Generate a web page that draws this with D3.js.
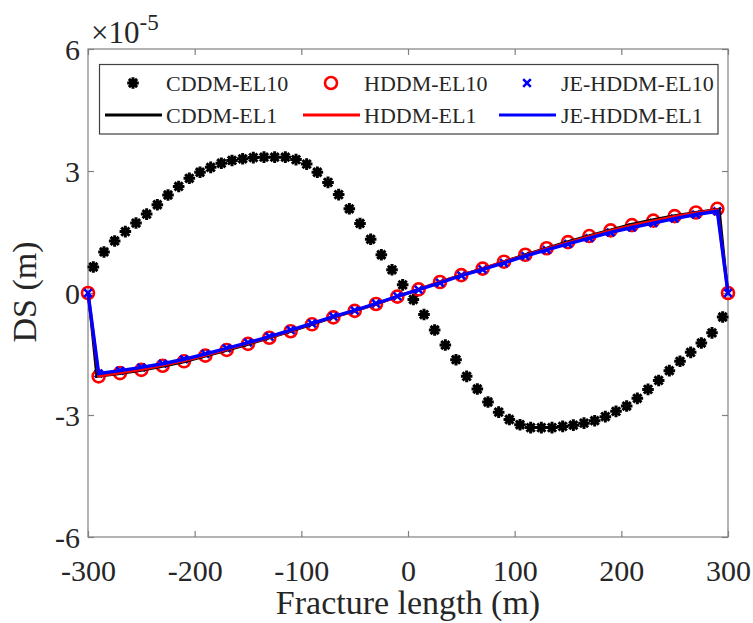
<!DOCTYPE html>
<html>
<head>
<meta charset="utf-8">
<script src="https://cdn.jsdelivr.net/npm/d3@7/dist/d3.min.js"></script>
<style>
  body { margin: 0; background: #fff; }
</style>
</head>
<body>
<div id="my_dataviz"></div>
<script>
// values are in units of 1e-5 m (the axis shows x10^-5)

// CDDM-EL10 : element centres
const cddmEl10X = [-295,-285,-275,-265,-255,-245,-235,-225,-215,-205,-195,-185,-175,-165,-155,-145,-135,-125,-115,-105,
  -95,-85,-75,-65,-55,-45,-35,-25,-15,-5,5,15,25,35,45,55,65,75,85,95,
  105,115,125,135,145,155,165,175,185,195,205,215,225,235,245,255,265,275,285,295];
const cddmEl10Y = [0.64,1.01,1.28,1.51,1.72,1.94,2.17,2.41,2.62,2.82,2.97,3.09,3.19,3.26,3.30,3.33,3.34,3.34,3.34,3.28,
  3.17,2.97,2.72,2.42,2.07,1.71,1.32,0.94,0.57,0.20,-0.16,-0.53,-0.91,-1.28,-1.64,-2.05,-2.36,-2.68,-2.93,-3.11,
  -3.24,-3.31,-3.31,-3.31,-3.28,-3.25,-3.20,-3.14,-3.04,-2.91,-2.78,-2.59,-2.37,-2.15,-1.91,-1.68,-1.46,-1.23,-0.98,-0.59];

// HDDM / JE-HDDM nodes
const nodeX = [-300,-290,-270,-250,-230,-210,-190,-170,-150,-130,-110,-90,-70,-50,-30,-10,
  10,30,50,70,90,110,130,150,170,190,210,230,250,270,290,300];
const hddmEl10Y = [0,-2.05,-1.97,-1.89,-1.79,-1.68,-1.54,-1.40,-1.25,-1.10,-0.94,-0.77,-0.60,-0.44,-0.27,-0.09,
  0.09,0.27,0.44,0.60,0.77,0.94,1.10,1.25,1.40,1.54,1.67,1.78,1.89,1.98,2.07,0];
const jeEl10Y = [0,-1.98,-1.91,-1.83,-1.74,-1.63,-1.50,-1.36,-1.22,-1.07,-0.91,-0.75,-0.58,-0.43,-0.26,-0.08,
  0.08,0.25,0.43,0.58,0.74,0.91,1.06,1.21,1.35,1.49,1.61,1.72,1.83,1.93,2.01,0];

// EL1 curves
const cddmEl1X = [-300,-292,-270,-250,-230,-210,-190,-170,-150,-130,-110,-90,-70,-50,-30,-10,
  10,30,50,70,90,110,130,150,170,190,210,230,250,270,292,300];
const cddmEl1Y = [0,-2.06,-1.99,-1.91,-1.81,-1.70,-1.56,-1.42,-1.27,-1.11,-0.95,-0.78,-0.61,-0.45,-0.28,-0.09,
  0.09,0.28,0.45,0.61,0.78,0.95,1.11,1.27,1.42,1.56,1.70,1.81,1.91,1.99,2.07,0];
const hddmEl1Y = [0,-2.04,-1.96,-1.88,-1.78,-1.67,-1.53,-1.39,-1.24,-1.09,-0.93,-0.76,-0.59,-0.44,-0.27,-0.09,
  0.09,0.27,0.44,0.60,0.77,0.93,1.09,1.24,1.39,1.53,1.66,1.77,1.88,1.97,2.05,0];
const jeEl1Y = [0,-1.98,-1.91,-1.83,-1.74,-1.63,-1.50,-1.36,-1.22,-1.07,-0.91,-0.75,-0.58,-0.43,-0.26,-0.08,
  0.08,0.25,0.43,0.58,0.74,0.91,1.06,1.21,1.35,1.49,1.61,1.72,1.83,1.93,2.01,0];

const xTicks = [-300,-200,-100,0,100,200,300];
const yTicks = [-6,-3,0,3,6];

const legendNames = ["CDDM-EL10","HDDM-EL10","JE-HDDM-EL10","CDDM-EL1","HDDM-EL1","JE-HDDM-EL1"];

// set the dimensions and margins of the graph
const W = 753, H = 623;
const margin = {top: 49, right: 25, bottom: 86, left: 88},
    width = W - margin.left - margin.right,
    height = H - margin.top - margin.bottom;

const font = "'Liberation Serif','Times New Roman',serif";
const axisCol = "#808080", textCol = "#262626";

const root = d3.select("#my_dataviz")
  .append("svg")
    .attr("width", W)
    .attr("height", H)
    .style("background", "#fff");

const svg = root.append("g")
    .attr("transform", `translate(${margin.left}, ${margin.top})`);

const x = d3.scaleLinear().domain([-300, 300]).range([0, width]);
const y = d3.scaleLinear().domain([-6, 6]).range([height, 0]);

// axes box
svg.append("rect")
  .attr("width", width).attr("height", height)
  .attr("fill", "none").attr("stroke", axisCol).attr("stroke-width", 1.2);

const tl = 6;
const fmt = d => String(d);   // plain hyphen minus, as MATLAB prints
const xb = svg.append("g").attr("transform", `translate(0, ${height})`)
  .call(d3.axisBottom(x).tickValues(xTicks).tickSize(-tl).tickPadding(23).tickFormat(fmt));
const xt = svg.append("g")
  .call(d3.axisTop(x).tickValues(xTicks).tickSize(-tl).tickFormat(""));
const yl = svg.append("g")
  .call(d3.axisLeft(y).tickValues(yTicks).tickSize(-tl).tickPadding(8).tickFormat(fmt));
const yr = svg.append("g").attr("transform", `translate(${width}, 0)`)
  .call(d3.axisRight(y).tickValues(yTicks).tickSize(-tl).tickFormat(""));

[xb, xt, yl, yr].forEach(g => {
  g.select(".domain").remove();
  g.selectAll(".tick line").attr("stroke", axisCol).attr("stroke-width", 1.2);
  g.selectAll("text")
    .attr("font-family", font)
    .attr("font-size", 30)
    .attr("fill", textCol);
});
xb.selectAll("text").attr("dy", "0.71em");
yl.selectAll("text").attr("dy", "0.34em");

// exponent label
const expo = root.append("text")
  .attr("x", 91).attr("y", 43)
  .attr("font-family", font).attr("font-size", 31).attr("fill", textCol);
expo.append("tspan").text("\u00d710");
expo.append("tspan").attr("font-size", 23).attr("dy", -13).text("-5");

// axis labels
svg.append("text")
  .attr("x", width / 2).attr("y", height + 77)
  .attr("text-anchor", "middle")
  .attr("font-family", font).attr("font-size", 34).attr("fill", textCol)
  .text("Fracture length (m)");

svg.append("text")
  .attr("transform", "rotate(-90)")
  .attr("x", -height / 2 + 1).attr("y", -52)
  .attr("text-anchor", "middle")
  .attr("font-family", font).attr("font-size", 34).attr("fill", textCol)
  .text("DS (m)");

// marker helpers
function asterisk(g, cx, cy, r) {
  const p = [];
  for (let k = 0; k < 4; k++) {
    const a = k * Math.PI / 4;
    p.push(`M${cx - r * Math.cos(a)},${cy - r * Math.sin(a)}L${cx + r * Math.cos(a)},${cy + r * Math.sin(a)}`);
  }
  g.append("path").attr("d", p.join("")).attr("stroke", "#000").attr("stroke-width", 3).attr("fill", "none");
}
function cross(g, cx, cy, r) {
  g.append("path")
    .attr("d", `M${cx - r},${cy - r}L${cx + r},${cy + r}M${cx - r},${cy + r}L${cx + r},${cy - r}`)
    .attr("stroke", "#0000ff").attr("stroke-width", 2.6).attr("fill", "none");
}
function ring(g, cx, cy, r) {
  g.append("circle").attr("cx", cx).attr("cy", cy).attr("r", r)
    .attr("fill", "none").attr("stroke", "#ff0000").attr("stroke-width", 2.6);
}

const plot = svg.append("g");

// CDDM-EL10 asterisks
cddmEl10X.forEach((v, i) => asterisk(plot, x(v), y(cddmEl10Y[i]), 5.8));
// HDDM-EL10 circles
nodeX.forEach((v, i) => ring(plot, x(v), y(hddmEl10Y[i]), 6));
// JE-HDDM-EL10 crosses
nodeX.forEach((v, i) => cross(plot, x(v), y(jeEl10Y[i]), 3.8));

const line = d3.line().x(d => x(d[0])).y(d => y(d[1]));

plot.append("path")
  .datum(cddmEl1X.map((v, i) => [v, cddmEl1Y[i]]))
  .attr("d", line).attr("fill", "none").attr("stroke", "#000").attr("stroke-width", 2.2);
plot.append("path")
  .datum(nodeX.map((v, i) => [v, hddmEl1Y[i]]))
  .attr("d", line).attr("fill", "none").attr("stroke", "#ff0000").attr("stroke-width", 3);
plot.append("path")
  .datum(nodeX.map((v, i) => [v, jeEl1Y[i]]))
  .attr("d", line).attr("fill", "none").attr("stroke", "#0000ff").attr("stroke-width", 3.4);

// LEGEND
const lg = root.append("g");
lg.append("rect")
  .attr("x", 99.5).attr("y", 64.5).attr("width", 618.5).attr("height", 69.5)
  .attr("fill", "#fff").attr("stroke", "#404040").attr("stroke-width", 1.2);

const colX = [133, 331, 527];
const textX = [166, 364, 561];
const rowY = [83, 115];
const lineCols = ["#000", "#ff0000", "#0000ff"];

legendNames.forEach((name, i) => {
  const c = i % 3, r = Math.floor(i / 3);
  if (r === 0) {
    if (c === 0) asterisk(lg, colX[c], rowY[r], 5.8);
    if (c === 1) ring(lg, colX[c], rowY[r], 6);
    if (c === 2) cross(lg, colX[c], rowY[r], 3.8);
  } else {
    lg.append("line")
      .attr("x1", colX[c] - 28).attr("x2", colX[c] + 29)
      .attr("y1", rowY[r]).attr("y2", rowY[r])
      .attr("stroke", lineCols[c]).attr("stroke-width", 3);
  }
  lg.append("text")
    .attr("x", textX[c]).attr("y", rowY[r])
    .attr("dy", "0.35em")
    .attr("font-family", font).attr("font-size", 22).attr("fill", textCol)
    .text(name);
});
</script>
</body>
</html>
